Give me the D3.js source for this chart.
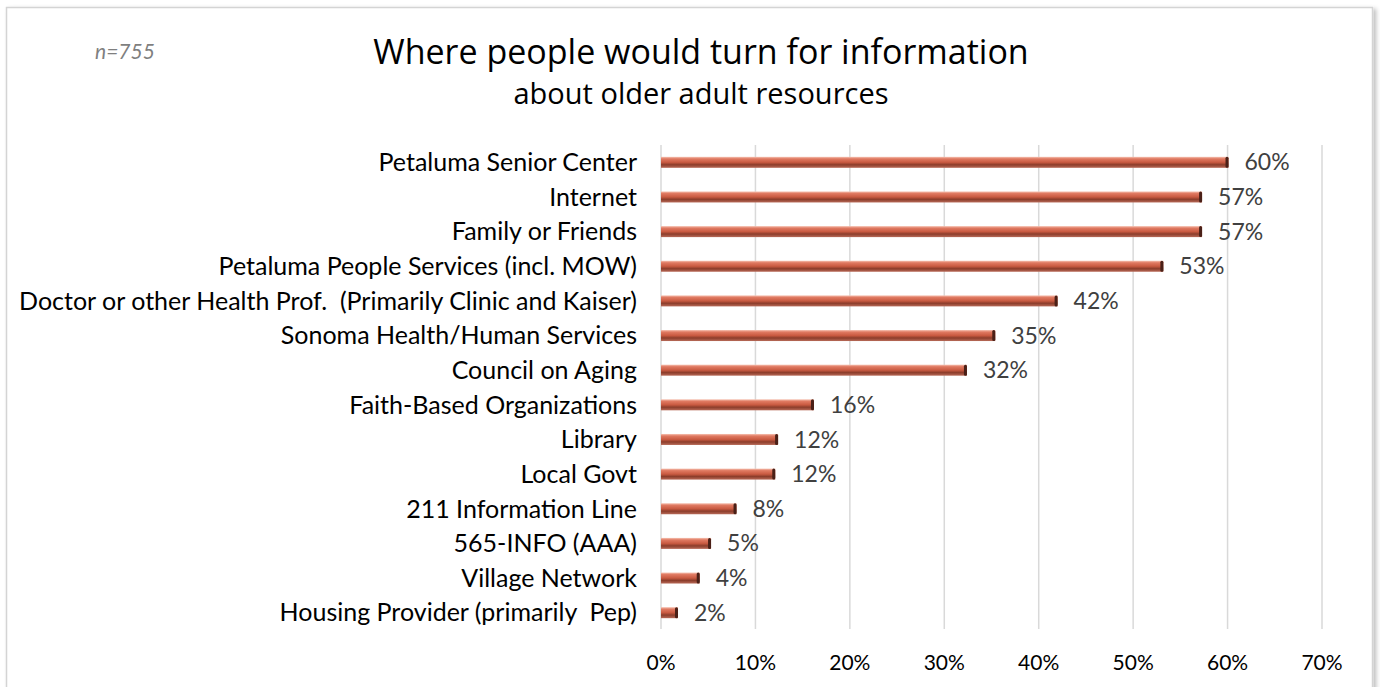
<!DOCTYPE html>
<html>
<head>
<meta charset="utf-8">
<script src="https://cdn.jsdelivr.net/npm/d3@7"></script>
<style>
  html, body { margin: 0; padding: 0; background: #fff; }
  svg { display: block; }
  text { white-space: pre; }
</style>
</head>
<body>
<div id="chart"></div>
<script>
// data
const categories = [
    "Petaluma Senior Center",
    "Internet",
    "Family or Friends",
    "Petaluma People Services (incl. MOW)",
    "Doctor or other Health Prof.  (Primarily Clinic and Kaiser)",
    "Sonoma Health/Human Services",
    "Council on Aging",
    "Faith-Based Organizations",
    "Library",
    "Local Govt",
    "211 Information Line",
    "565-INFO (AAA)",
    "Village Network",
    "Housing Provider (primarily  Pep)"
];
const values = [60.1, 57.3, 57.3, 53.2, 42.0, 35.4, 32.4, 16.2, 12.4, 12.1, 8.0, 5.3, 4.1, 1.8];
const xTicks = [0, 10, 20, 30, 40, 50, 60, 70];
const titleText = "Where people would turn for information";
const subtitleText = "about older adult resources";
const sampleText = "n=755";

const width = 1380;
const height = 687;

const svg = d3.select("#chart").append("svg")
    .attr("width", width)
    .attr("height", height);

const defs = svg.append("defs");

// soft shadow for the chart frame
const shadow = defs.append("filter").attr("id", "shadow")
    .attr("x", "-5%").attr("y", "-5%").attr("width", "110%").attr("height", "110%");
shadow.append("feDropShadow")
    .attr("dx", 3).attr("dy", 2).attr("stdDeviation", 2)
    .attr("flood-color", "#000").attr("flood-opacity", 0.25);

// cylinder-like shading of the bars
const grad = defs.append("linearGradient").attr("id", "barGrad")
    .attr("x1", 0).attr("y1", 0).attr("x2", 0).attr("y2", 1);
grad.append("stop").attr("offset", "0%").attr("stop-color", "#f6c2b2");
grad.append("stop").attr("offset", "18%").attr("stop-color", "#e07a62");
grad.append("stop").attr("offset", "50%").attr("stop-color", "#c95a41");
grad.append("stop").attr("offset", "72%").attr("stop-color", "#8c3d2b");
grad.append("stop").attr("offset", "100%").attr("stop-color", "#b86a58");

// frame
svg.append("rect")
    .attr("x", 6.5).attr("y", 7.5)
    .attr("width", 1366).attr("height", 700)
    .attr("fill", "#fff")
    .attr("stroke", "#d4d4d4")
    .attr("stroke-width", 1.5)
    .attr("filter", "url(#shadow)");

// scales
const x = d3.scaleLinear()
    .domain([0, 70])
    .range([661, 1322]);

const y = d3.scaleBand()
    .domain(categories)
    .range([145, 630])
    .padding(0);

const barH = 11;
const labelFont = "Lato, 'Open Sans', sans-serif";

// gridlines
svg.append("g")
    .selectAll("line")
    .data(xTicks)
    .join("line")
    .attr("x1", d => x(d)).attr("x2", d => x(d))
    .attr("y1", 145).attr("y2", 629)
    .attr("stroke", "#d9d9d9")
    .attr("stroke-width", 1.5);

// x tick labels
svg.append("g")
    .selectAll("text")
    .data(xTicks)
    .join("text")
    .attr("x", d => x(d))
    .attr("y", 670)
    .attr("text-anchor", "middle")
    .style("font-family", labelFont)
    .style("font-size", "21px")
    .attr("fill", "#000")
    .text(d => d + "%");

// category labels
svg.append("g")
    .selectAll("text")
    .data(categories)
    .join("text")
    .attr("x", 637)
    .attr("y", d => y(d) + y.bandwidth() / 2)
    .attr("dy", "0.35em")
    .attr("text-anchor", "end")
    .style("font-family", labelFont)
    .style("font-size", "25px")
    .attr("fill", "#000")
    .text(d => d);

const rows = categories.map((c, i) => ({ cat: c, val: values[i] }));

// bars
const bars = svg.append("g");
bars.selectAll("rect.bar")
    .data(rows)
    .join("rect")
    .attr("class", "bar")
    .attr("x", x(0))
    .attr("y", d => y(d.cat) + y.bandwidth() / 2 - barH / 2)
    .attr("width", d => x(d.val) - x(0))
    .attr("height", barH)
    .attr("fill", "url(#barGrad)");

// dark end caps
bars.selectAll("rect.cap")
    .data(rows)
    .join("rect")
    .attr("class", "cap")
    .attr("x", d => x(d.val) - 3)
    .attr("y", d => y(d.cat) + y.bandwidth() / 2 - barH / 2)
    .attr("width", 3)
    .attr("height", barH)
    .attr("rx", 1.5)
    .attr("fill", "#4a2017");

// value labels
svg.append("g")
    .selectAll("text")
    .data(rows)
    .join("text")
    .attr("x", d => x(d.val) + 16)
    .attr("y", d => y(d.cat) + y.bandwidth() / 2)
    .attr("dy", "0.35em")
    .style("font-family", labelFont)
    .style("font-size", "23px")
    .attr("fill", "#404040")
    .text(d => Math.round(d.val) + "%");

// titles
svg.append("text")
    .attr("x", 701).attr("y", 64)
    .attr("text-anchor", "middle")
    .style("font-family", "'Open Sans', sans-serif")
    .style("font-size", "34px")
    .attr("fill", "#000")
    .text(titleText);

svg.append("text")
    .attr("x", 701).attr("y", 104)
    .attr("text-anchor", "middle")
    .style("font-family", "'Open Sans', sans-serif")
    .style("font-size", "29px")
    .attr("fill", "#000")
    .text(subtitleText);

svg.append("text")
    .attr("x", 95).attr("y", 59)
    .style("font-family", labelFont)
    .style("font-style", "italic")
    .style("font-size", "21px")
    .attr("fill", "#7f7f7f")
    .text(sampleText);
</script>
</body>
</html>
